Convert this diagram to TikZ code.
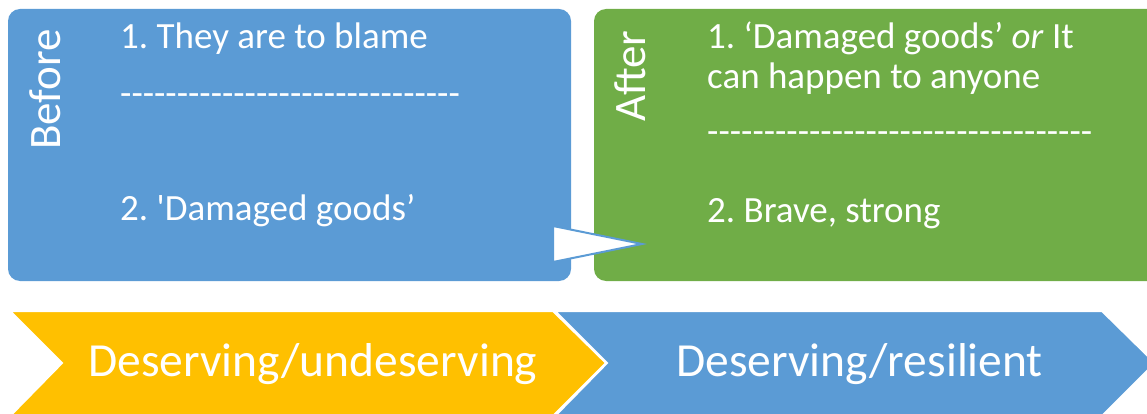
\documentclass[tikz,border=0pt]{standalone}
\usepackage{fontspec}
\setmainfont{Carlito}
\frenchspacing
\definecolor{boxblue}{HTML}{5B9BD5}
\definecolor{boxgreen}{HTML}{70AD47}
\definecolor{chevyellow}{HTML}{FFC000}
\newcommand{\dashrow}[1]{\foreach \k in {1,...,#1}{-}}
\newcommand{\bodyfont}{\fontsize{37}{40}\selectfont}

\begin{document}
\begin{tikzpicture}[x=1pt,y=-1pt]
\tikzstyle{every node}+=[inner sep=0pt, text=white]
\useasboundingbox (0,0) rectangle (1147,414);
% boxes
\fill [boxblue, rounded corners=12] (8,9) rectangle (571,281);
\fill [boxgreen, rounded corners=12] (594,9) rectangle (1170,281);
\draw [boxblue, fill=white, line width=2] (553,226) -- (642,244) -- (553,262) -- cycle;
% before
\draw (60,150) node [anchor=base west, rotate=90, font=\fontsize{45}{50}\selectfont] (before) {Before};
\draw (120,49) node [anchor=base west, font=\bodyfont] (blame) {1. They are to blame};
\draw (120,106) node [anchor=base west, font=\bodyfont] (bsep) {\dashrow{30}};
\draw (120,220) node [anchor=base west, font=\bodyfont] (bgoods) {2. \textquotesingle Damaged goods’};
% after
\draw (645,122) node [anchor=base west, rotate=90, font=\fontsize{45}{50}\selectfont] (after) {After};
\draw (707,49) node [anchor=base west, font=\bodyfont] (agoods) {1. ‘Damaged goods’ \textit{or} It};
\draw (707,89) node [anchor=base west, font=\bodyfont] (anyone) {can happen to anyone};
\draw (707,144) node [anchor=base west, font=\bodyfont] (asep) {\dashrow{34}};
\draw (707,222) node [anchor=base west, font=\bodyfont] (brave) {2. Brave, strong};
% chevrons
\draw [white, fill=chevyellow, line width=2] (10,311) -- (553,311) -- (606,363) -- (553,416) -- (10,416) -- (62,363) -- cycle;
\draw [white, fill=boxblue, line width=2] (555,311) -- (1102,311) -- (1155,363) -- (1102,416) -- (555,416) -- (607,363) -- cycle;
\draw (88,376) node [anchor=base west, font=\fontsize{47.5}{50}\selectfont] (undeserving) {Deserving/undeserving};
\draw (676,376) node [anchor=base west, font=\fontsize{47.5}{50}\selectfont] (resilient) {Deserving/resilient};
\end{tikzpicture}
\end{document}
